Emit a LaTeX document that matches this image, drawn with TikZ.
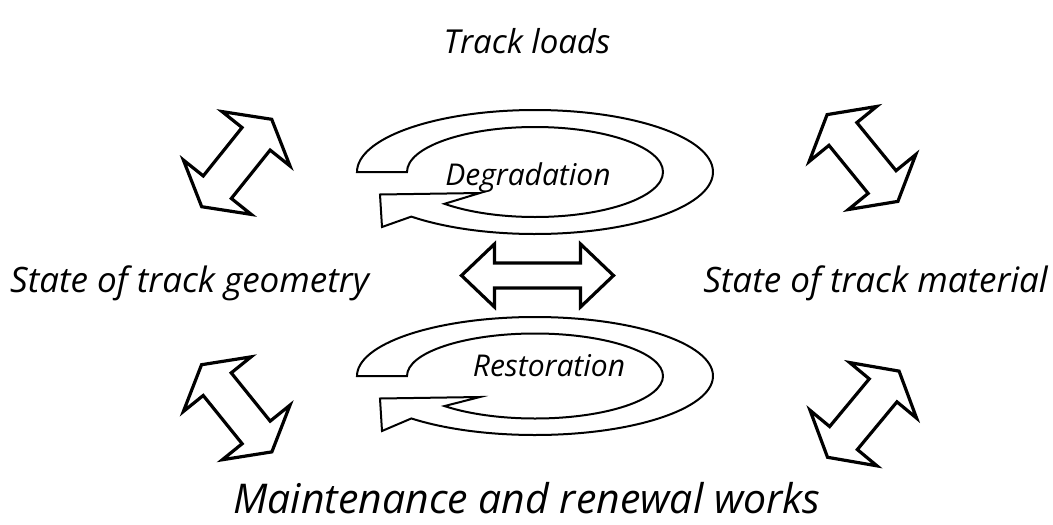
\documentclass[tikz,border=0pt]{standalone}
\usepackage{fontspec}
\setmainfont{Open Sans}
\tikzset{
  lbl/.style={font=\itshape\fontsize{35}{40}\selectfont, inner sep=0pt},
  toplbl/.style={font=\itshape\fontsize{33}{38}\selectfont, inner sep=0pt},
  botlbl/.style={font=\itshape\fontsize{41}{46}\selectfont, inner sep=0pt},
  inlbl/.style={font=\itshape\fontsize{30}{34}\selectfont, inner sep=0pt},
  blockarrow/.style={draw=black, line width=3.2pt, line join=miter, fill=white},
  ringarrow/.style={draw=black, line width=2pt, line join=miter, fill=white},
}
% center x, center y, angle, half length, head length, half head width, half shaft width, name
\newcommand\dblarr[8]{%
  \begin{scope}[shift={(#1,#2)},rotate=#3]
    \coordinate (#8) at (0,0);
    \draw[blockarrow] (-#4,0) -- (-#4+#5,#6) -- (-#4+#5,#7) -- (#4-#5,#7) -- (#4-#5,#6) -- (#4,0)
      -- (#4-#5,-#6) -- (#4-#5,-#7) -- (-#4+#5,-#7) -- (-#4+#5,-#6) -- cycle;
  \end{scope}}
% center x, center y, outer rx, outer ry, inner rx, inner ry, name
\newcommand\ringarr[7]{%
  \begin{scope}[shift={(#1,#2)}]
    \coordinate (#7) at (0,0);
    \draw[ringarrow] (-#3,0) -- (-#5,0)
      arc[start angle=180, end angle=495, x radius=#5pt, y radius=#6pt]
      -- (-55,21) -- (-155,22.5) -- (-153,55)
      -- (494:#3pt and #4pt)
      arc[start angle=494, end angle=180, x radius=#3pt, y radius=#4pt] -- cycle;
  \end{scope}}
\begin{document}
\begin{tikzpicture}[x=1pt, y=1pt, yscale=-1]
  \useasboundingbox (0,0) rectangle (1053,525);
  % circular arrows
  \ringarr{535}{172}{178}{62}{128}{45}{degr}
  \ringarr{535}{376}{178}{59}{128}{42.5}{rest}
  % diagonal and horizontal double arrows
  \dblarr{236.7}{163}{-51.3}{56}{25}{43.5}{18}{ulA}
  \dblarr{862.5}{158}{50.8}{56}{25}{43.5}{18}{urA}
  \dblarr{236.7}{408.3}{51.1}{56}{25}{43.5}{18}{llA}
  \dblarr{863.3}{414.2}{-50.3}{56}{25}{43.5}{18}{lrA}
  \dblarr{537.5}{275.5}{0}{76}{33}{31.5}{12.5}{midA}
  % labels
  \node[toplbl, anchor=base] (loads) at (527,53) {Track loads};
  \node[lbl, anchor=base west] (geom) at (10,292) {State of track geometry};
  \node[lbl, anchor=base east] (mat) at (1048,292) {State of track material};
  \node[botlbl, anchor=base] (works) at (527,513) {Maintenance and renewal works};
  \node[inlbl, anchor=base] (degt) at (528,185) {Degradation};
  \node[inlbl, anchor=base] (restt) at (549,376) {Restoration};
\end{tikzpicture}
\end{document}
